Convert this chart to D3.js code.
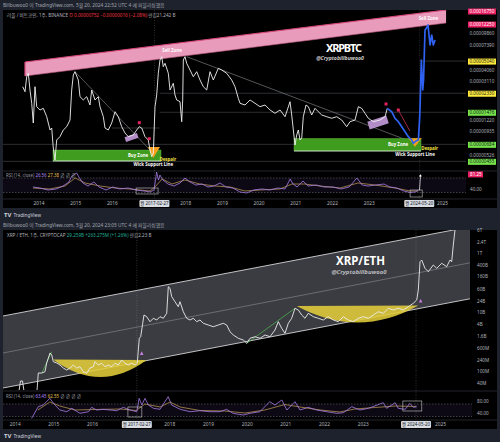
<!DOCTYPE html>
<html>
<head>
<meta charset="utf-8">
<script src="https://cdnjs.cloudflare.com/ajax/libs/d3/7.8.5/d3.min.js"></script>
<style>
  body { margin: 0; background: #1e222d; }
  svg { display: block; font-family: "Noto Sans", "Noto Sans CJK KR", sans-serif; }
</style>
</head>
<body>
<div id="chart"></div>
<script>
// ---- XRPBTC (weekly, price in satoshi) ----
const yearTicks = [2014, 2015, 2016, 2017, 2018, 2019, 2020, 2021, 2022, 2023, 2024, 2025];
const btcWeeks = [2013.569,2013.632,2013.678,2013.722,2013.768,2013.815,2013.858,2013.905,2013.951,2014.041,
  2014.131,2014.224,2014.314,2014.360,2014.403,2014.450,2014.496,2014.586,2014.676,2014.769,
  2014.859,2014.905,2014.949,2014.995,2015.085,2015.131,2015.221,2015.314,2015.404,2015.450,
  2015.540,2015.630,2015.677,2015.767,2015.813,2015.903,2015.996,2016.086,2016.176,2016.268,
  2016.358,2016.448,2016.585,2016.677,2016.748,2016.814,2016.903,2016.993,2017.040,2017.086,
  2017.130,2017.176,2017.222,2017.266,2017.312,2017.359,2017.402,2017.449,2017.539,2017.585,
  2017.675,2017.721,2017.768,2017.858,2017.904,2017.931,2017.948,2017.994,2018.040,2018.130,
  2018.220,2018.313,2018.403,2018.493,2018.586,2018.676,2018.766,2018.902,2018.995,2019.131,
  2019.267,2019.357,2019.447,2019.494,2019.630,2019.767,2019.903,2020.039,2020.176,2020.312,
  2020.448,2020.585,2020.721,2020.857,2020.903,2020.947,2020.993,2021.039,2021.083,2021.129,
  2021.176,2021.219,2021.293,2021.356,2021.448,2021.538,2021.628,2021.721,2021.857,2021.993,
  2022.130,2022.266,2022.402,2022.492,2022.629,2022.719,2022.811,2022.901,2022.991,2023.128,
  2023.310,2023.447,2023.509];
const btcClose = [2726,2418,3464,3760,2519,1830,1141,2726,1687,1559,
  1623,1327,965,1012,627,470,759,822,965,1044,
  1226,2519,3609,3906,3201,2145,1982,2145,1757,2519,
  1982,2145,1687,1327,1012,965,1141,1497,1327,1044,
  898,822,856,965,1044,1012,822,759,597,509,
  556,1687,2234,3760,5171,5598,4405,4778,3760,2519,
  2958,2234,1982,1902,1177,1982,5171,5598,4778,4068,
  3464,3906,3201,2726,2519,3906,3201,4240,4068,3760,
  3201,2726,2064,1830,1757,1982,1830,1687,1757,1559,
  1440,1559,1327,1902,1383,965,673,856,965,759,
  796,1327,1757,1687,1383,1623,1497,1383,1327,1278,
  1327,1226,1044,1177,1226,1687,1623,1440,1278,1177,
  1226,1327,1623];
// blue hand-drawn projection
const btcProjWeeks = [2023.509,2023.629,2023.719,2023.809,2023.902,2023.992,2024.082,2024.174,2024.218,2024.292,
  2024.355,2024.388,2024.401,2024.415,2024.437,2024.456,2024.475,2024.497,2024.537,2024.578,
  2024.619,2024.646,2024.673,2024.720,2024.763,2024.810];
const btcProj = [1623,1496,1277,1178,1045,927,822,759,701,742,
  759,1226,1636,2643,5171,3609,2518,3201,10620,11140,
  11970,9420,7410,9420,7410,8355];
const btcPriceTicks = [16750, 12250, 9860, 7390, 5040, 4060, 3110, 2330, 1476, 1220, 935, 684, 526, 455];

const btcRsiWeeks = [2013.85,2014.04,2014.26,2014.48,2014.67,2014.83,2014.91,2015.04,2015.10,2015.21,
  2015.35,2015.51,2015.65,2015.84,2016.03,2016.22,2016.44,2016.66,2016.88,2017.04,
  2017.15,2017.22,2017.27,2017.31,2017.39,2017.53,2017.69,2017.86,2017.99,2018.13,
  2018.29,2018.46,2018.62,2018.78,2018.95,2019.11,2019.30,2019.49,2019.68,2019.87,
  2020.09,2020.31,2020.53,2020.72,2020.86,2020.94,2021.05,2021.21,2021.35,2021.57,
  2021.78,2022.03,2022.25,2022.47,2022.68,2022.82,2022.98,2023.20,2023.42,2023.58,
  2023.77,2023.96,2024.13,2024.27,2024.36];
const btcRsi = [45.2,42.4,36.9,39.7,47.9,59,75.5,83.8,72.8,56.2,
  47.9,59,45.2,36.9,45.2,39.7,42.4,36.9,34.1,31.4,
  36.9,86.6,64.5,78.3,64.5,53.4,47.9,56.2,70,59,
  50.7,53.4,45.2,47.9,56.2,45.2,42.4,31.4,28.6,36.9,
  39.7,36.9,42.4,39.7,67.2,53.4,45.2,61.7,47.9,50.7,
  45.2,45.2,39.7,45.2,70,50.7,47.9,50.7,53.4,45.2,
  42.4,34.1,30,31.4,36.9];
const btcRsiMaWeeks = [2013.85,2014.31,2014.72,2015.00,2015.27,2015.68,2016.09,2016.49,2017.04,2017.20,
  2017.37,2017.64,2017.99,2018.40,2018.81,2019.22,2019.63,2020.04,2020.58,2020.91,
  2021.26,2021.67,2022.22,2022.71,2023.17,2023.72,2024.13,2024.35];
const btcRsiMa = [42.4,39.7,47.9,70,56.2,47.9,42.4,39.7,34.1,47.9,
  67.2,53.4,64.5,53.4,47.9,45.2,34.1,36.9,39.7,53.4,
  53.4,47.9,42.4,56.2,50.7,42.4,34.1,34.1];

// drawings on XRPBTC
const sellZoneYears = [2013.632, 2025.110];
const sellZoneTop = [4929, 17150];
const sellZoneBottom = [3523, 12570];
const sellLabelYears = [2017.64, 2024.63];
const buyZones = [[2014.395, 2017.340, 597, 459], [2020.966, 2024.428, 787, 583]];
const despair = [[2016.985, 2017.312, 2017.13, 642, 493], [2024.082, 2024.447, 2024.265, 790, 646]];
const btcTrendLines = [[2014.995, 3906, 2017.04, 597], [2018.040, 5598, 2024.40, 673]];
const btcLevels = [[2330, 2017.31, null], [1476, 2017.3, null], [1012, 2016.0, 2017.3], [684, null, null], [455, null, null], [5040, 2024.4, null]];
const purpleBoxes = [[2016.535, 806], [2023.256, 1155]];
const redMarks = [[2016.748, 1150], [2017.021, 783], [2023.474, 1800], [2023.809, 1559]];
const redLine = [[2023.809, 1559], [2024.124, 942]];
const btcRsiBoxes = [[2016.66, 2017.26, 42.4, 25.9], [2024.13, 2024.46, 36.9, 17.6]];
const btcRsiNow = 81.25;

// ---- XRP/ETH (weekly, value in millions) ----
const ethWeeks = [2014.113,2014.152,2014.204,2014.242,2014.578,2014.612,2014.700,2014.785,2014.829,2014.915,
  2014.959,2015.0,2015.088,2015.173,2015.259,2015.347,2015.432,2015.517,2015.605,2015.690,
  2015.776,2015.864,2015.949,2016.034,2016.078,2016.164,2016.252,2016.337,2016.422,2016.510,
  2016.596,2016.681,2016.769,2016.854,2016.939,2017.027,2017.113,2017.172,2017.198,2017.224,
  2017.260,2017.312,2017.345,2017.415,2017.501,2017.586,2017.674,2017.759,2017.845,2017.933,
  2017.974,2018.018,2018.062,2018.147,2018.232,2018.276,2018.362,2018.450,2018.535,2018.620,
  2018.708,2018.794,2018.879,2019.008,2019.138,2019.267,2019.396,2019.484,2019.569,2019.655,
  2019.784,2019.913,2020.001,2020.087,2020.216,2020.345,2020.474,2020.604,2020.733,2020.818,
  2020.906,2020.992,2021.077,2021.165,2021.250,2021.336,2021.424,2021.509,2021.594,2021.724,
  2021.853,2021.982,2022.111,2022.241,2022.370,2022.499,2022.629,2022.758,2022.887,2023.017,
  2023.146,2023.275,2023.405,2023.534,2023.663,2023.792,2023.922,2024.051,2024.180,2024.310,
  2024.398,2024.439,2024.483,2024.527,2024.612,2024.697,2024.827,2024.915,2025.044,2025.173,
  2025.259,2025.302,2025.344,2025.388,2025.432];
const ethValue = [21.5,46.7,46.7,21.5,21.5,87,87,96,190,413,
  353,210,190,162,128,110,128,162,128,142,
  96,85,128,142,210,162,185,142,162,142,
  185,162,239,185,162,185,162,185,521,1296,
  1466,4160,7930,6950,4710,6140,5370,6950,6140,9060,
  71700,63200,33000,22300,15100,22300,10250,6140,5370,6140,
  4710,5370,4160,3640,3190,3640,4160,3640,2160,1673,
  1296,1135,877,1296,1466,1296,1673,1466,2470,4710,
  2820,1910,4160,6140,13360,11700,7930,6140,9060,6950,
  6140,5370,6950,5370,4710,6950,5370,4710,6140,6950,
  6140,7930,10250,9060,13360,11700,13360,11700,15100,19700,
  25500,55500,501000,572000,300000,230000,388000,300000,443000,340000,
  572000,501000,1836000,5900000,6890000];
const ethPriceTicks = [40, 100, 240, 600, 1600, 4000, 10000, 24000, 60000, 160000, 400000, 1e6, 2.4e6, 6e6];

const ethRsiWeeks = [2014.44,2014.61,2014.74,2014.91,2015.04,2015.17,2015.35,2015.48,2015.69,2015.91,
  2015.99,2016.12,2016.29,2016.47,2016.64,2016.81,2016.98,2017.16,2017.22,2017.29,
  2017.37,2017.46,2017.59,2017.76,2017.97,2018.06,2018.28,2018.54,2018.79,2019.05,
  2019.31,2019.48,2019.65,2019.91,2020.09,2020.34,2020.60,2020.73,2020.91,2021.04,
  2021.25,2021.38,2021.59,2021.81,2022.07,2022.33,2022.50,2022.72,2022.93,2023.15,
  2023.53,2023.62,2023.84,2023.92,2024.10,2024.22,2024.31,2024.40];
const ethRsi = [24.2,61.4,66.8,88.2,66.8,50.8,45.4,56.2,40.2,45.4,
  59.4,50.8,53,50.8,48.6,59.4,50.8,45.4,88.2,66.8,
  88.2,66.8,56.2,53,93.4,66.8,53,45.4,48.6,45.4,
  45.4,53,40.2,34.8,40.2,45.4,77.4,66.8,82.8,50.8,
  77.4,50.8,59.4,50.8,45.4,40.2,42.2,61.4,50.8,56.2,
  74.2,56.2,74.2,56.2,53,72.2,59.4,61.4];
const ethRsiMaWeeks = [2014.60,2014.91,2015.17,2015.56,2016.08,2016.73,2017.14,2017.37,2017.76,2018.02,
  2018.28,2018.79,2019.43,2019.96,2020.47,2020.99,2021.38,2021.90,2022.41,2022.80,
  2023.31,2023.84,2024.38];
const ethRsiMa = [50.8,76.4,63.6,50.8,52.4,54,49.2,70,60.4,76.4,
  60.4,49.2,47.6,41.2,50.8,68.4,60.4,50.8,44.4,54,
  58.8,63.6,62];

// drawings on XRP/ETH
const channelYears = [2013.699, 2025.776];
const channelUpper = [7340, 7.57e6];
const channelMid = [413, 460000];
const channelLower = [27.1, 27990];
const ethCups = [[2014.992, 249, 2016.208, 63.8, 2017.415, 239], [2021.294, 15960, 2022.88, 4430, 2024.439, 16600]];
const ethGreenLines = [[2014.700, 85, 2014.959, 456], [2020.001, 877, 2021.25, 13360]];
const ethMarks = [[2017.286, 403], [2024.50, 23600]];
const ethRsiBoxes = [[2016.93, 2017.29, 60.4, 28.4], [2024.04, 2024.53, 79.6, 47.6]];

const crossDates = [2017.16, 2024.38];
const crossLabels = ["월 2017-02-27", "월 2024-05-20"];

// ---------------------------------------------------------------
const W = 500, H = 442;
const zip = (a, b) => a.map((v, i) => [v, b[i]]);
// year labels hidden under the crosshair date boxes
const visibleYears = yearTicks.filter(y => crossDates.every(c => Math.abs(y - c) > 0.5));
const svg = d3.select("#chart").append("svg").attr("width", W).attr("height", H);
svg.append("rect").attr("width", W).attr("height", H).attr("fill", "#1e222d");
const defs = svg.append("defs");
function clip(id, x, y, w, h) {
  defs.append("clipPath").attr("id", id).append("rect").attr("x", x).attr("y", y).attr("width", w).attr("height", h);
  return `url(#${id})`;
}
function styleAxis(g, size) {
  g.attr("font-family", null).attr("font-size", size);
  g.select(".domain").remove();
  g.selectAll(".tick line").remove();
  g.selectAll(".tick text").attr("fill", "#b2b5be");
}

function drawRsi(g, x, r, weeks, vals, maWeeks, maVals, boxes, left, right) {
  g.append("rect").attr("x", left).attr("y", r(70)).attr("width", right - left)
    .attr("height", r(30) - r(70)).attr("fill", "rgba(126,87,194,0.10)");
  [70, 30].forEach(v => g.append("line").attr("x1", left).attr("x2", right)
    .attr("y1", r(v)).attr("y2", r(v)).attr("stroke", "#787b86")
    .attr("stroke-width", 0.5).attr("stroke-dasharray", "1.5,1.5"));
  const ln = d3.line().x(d => x(d[0])).y(d => r(d[1]));
  g.append("path").attr("d", ln(zip(maWeeks, maVals))).attr("fill", "none")
    .attr("stroke", "#c9a25a").attr("stroke-width", 0.7);
  g.append("path").attr("d", ln(zip(weeks, vals))).attr("fill", "none")
    .attr("stroke", "#a77ee6").attr("stroke-width", 0.8);
  boxes.forEach(b => g.append("rect").attr("x", x(b[0])).attr("y", r(b[2]))
    .attr("width", x(b[1]) - x(b[0])).attr("height", r(b[3]) - r(b[2]))
    .attr("fill", "none").attr("stroke", "#c8c8c8").attr("stroke-width", 0.6));
}

function drawCross(x, y0, y1) {
  crossDates.forEach(d => {
    svg.append("line").attr("x1", x(d)).attr("x2", x(d)).attr("y1", y0).attr("y2", y1)
      .attr("stroke", "#8a8d96").attr("stroke-width", 0.5).attr("stroke-dasharray", "1,1.5").attr("opacity", 0.7);
  });
}
function drawCrossBoxes(x, yBox) {
  crossDates.forEach((d, i) => {
    svg.append("rect").attr("x", x(d) - 15).attr("y", yBox).attr("width", 30).attr("height", 7)
      .attr("rx", 1).attr("fill", "#d8dbe2");
    svg.append("text").attr("x", x(d)).attr("y", yBox + 5).attr("text-anchor", "middle")
      .attr("font-size", 4.4).attr("fill", "#131722").text(crossLabels[i]);
  });
}

function header(y, text) {
  svg.append("text").attr("x", 3).attr("y", y).attr("font-size", 4.8).attr("fill", "#a3a6af").text(text);
}
function footer(y) {
  const t = svg.append("text").attr("x", 4).attr("y", y).attr("fill", "#d1d4dc");
  t.append("tspan").attr("font-size", 6).attr("font-weight", "bold").text("TV");
  t.append("tspan").attr("font-size", 4.8).attr("dx", 2).text("TradingView");
}

// ================= TOP: XRPBTC =================
const xTop = d3.scaleLinear().domain([2014, 2025]).range([38.5, 442]);
const yTop = d3.scaleLog().domain([18000, 1800]).range([8, 104]);
const rTop = d3.scaleLinear().domain([30, 70]).range([192.5, 178]);

header(6.5, "Billbuwoo0 이 TradingView.com, 5월 20, 2024 22:52 UTC 4 에 퍼블리싱했음");
svg.append("rect").attr("x", 3).attr("y", 10).attr("width", 494).attr("height", 198).attr("fill", "#000");
svg.append("line").attr("x1", 3).attr("x2", 497).attr("y1", 171).attr("y2", 171).attr("stroke", "#2a2e39").attr("stroke-width", 0.8);
svg.append("line").attr("x1", 3).attr("x2", 497).attr("y1", 199).attr("y2", 199).attr("stroke", "#2a2e39").attr("stroke-width", 0.8);

const sym1 = svg.append("text").attr("x", 7).attr("y", 16.5).attr("font-size", 4.6).attr("fill", "#b2b5be");
sym1.append("tspan").text("리플 / 비트코인, 1주, BINANCE  ");
sym1.append("tspan").attr("fill", "#f23645").text("O 0.00000752  −0.00000016 (−2.08%)");
sym1.append("tspan").text("  만김21.242 B");

drawCross(xTop, 10, 199);

const pTop = svg.append("g").attr("clip-path", clip("cTop", 3, 10, 463, 160));
const lnTop = d3.line().x(d => xTop(d[0])).y(d => yTop(d[1]));

// horizontal levels
btcLevels.forEach(l => pTop.append("line")
  .attr("x1", l[1] == null ? 3 : xTop(l[1])).attr("x2", l[2] == null ? 466 : xTop(l[2]))
  .attr("y1", yTop(l[0])).attr("y2", yTop(l[0])).attr("stroke", "#4a4d55").attr("stroke-width", 0.6));
// trend lines
btcTrendLines.forEach(t => pTop.append("line").attr("x1", xTop(t[0])).attr("y1", yTop(t[1]))
  .attr("x2", xTop(t[2])).attr("y2", yTop(t[3])).attr("stroke", "#8d8f96").attr("stroke-width", 0.6));

// sell zone band
const sz = [[xTop(sellZoneYears[0]), yTop(sellZoneTop[0])], [xTop(sellZoneYears[1]), yTop(sellZoneTop[1])],
  [xTop(sellZoneYears[1]), yTop(sellZoneBottom[1])], [xTop(sellZoneYears[0]), yTop(sellZoneBottom[0])]];
pTop.append("polygon").attr("points", sz.map(p => p.join(",")).join(" ")).attr("fill", "#e99bbb");
pTop.append("line").attr("x1", sz[0][0]).attr("y1", sz[0][1]).attr("x2", sz[1][0]).attr("y2", sz[1][1])
  .attr("stroke", "#d9487a").attr("stroke-width", 1.2);
pTop.append("line").attr("x1", sz[3][0]).attr("y1", sz[3][1]).attr("x2", sz[2][0]).attr("y2", sz[2][1])
  .attr("stroke", "#b8577c").attr("stroke-width", 0.6);
pTop.append("line").attr("x1", sz[0][0]).attr("y1", sz[0][1]).attr("x2", sz[3][0]).attr("y2", sz[3][1])
  .attr("stroke", "#d9487a").attr("stroke-width", 1.2);
sellLabelYears.forEach(yr => {
  const f = (xTop(yr) - sz[0][0]) / (sz[1][0] - sz[0][0]);
  const yt = sz[0][1] + f * (sz[1][1] - sz[0][1]), yb = sz[3][1] + f * (sz[2][1] - sz[3][1]);
  pTop.append("text").attr("x", xTop(yr)).attr("y", (yt + yb) / 2 + 1.5).attr("text-anchor", "middle")
    .attr("font-size", 4.4).attr("font-weight", "bold").attr("fill", "#fff").text("Sell Zone");
});

// buy zones
buyZones.forEach(b => {
  const x0 = xTop(b[0]), x1 = xTop(b[1]), y0 = yTop(b[2]), y1 = yTop(b[3]);
  pTop.append("rect").attr("x", x0).attr("y", y0).attr("width", x1 - x0).attr("height", y1 - y0)
    .attr("fill", "#3f9c1e").attr("stroke", "#74c250").attr("stroke-width", 0.4);
  pTop.append("line").attr("x1", x0).attr("x2", x1).attr("y1", y1).attr("y2", y1)
    .attr("stroke", "#fff").attr("stroke-width", 0.7);
  pTop.append("text").attr("x", x1 - 23).attr("y", (y0 + y1) / 2 + 1.5).attr("text-anchor", "middle")
    .attr("font-size", 4.4).attr("font-weight", "bold").attr("fill", "#fff").text("Buy Zone");
});
// despair triangles
despair.forEach(d => {
  const pts = [[xTop(d[0]), yTop(d[3])], [xTop(d[1]), yTop(d[3])], [xTop(d[2]), yTop(d[4])]];
  pTop.append("polygon").attr("points", pts.map(p => p.join(",")).join(" ")).attr("fill", "#f6a01d");
});

// purple boxes
const purpleSize = [[13, 5], [20, 8]];
purpleBoxes.forEach((p, i) => {
  const [w, h] = purpleSize[i];
  pTop.append("rect").attr("x", -w / 2).attr("y", -h / 2).attr("width", w).attr("height", h)
    .attr("fill", "#c59bdc").attr("opacity", 0.9)
    .attr("transform", `translate(${xTop(p[0])},${yTop(p[1])}) rotate(-18)`);
});

// price line
pTop.append("path").attr("d", lnTop(zip(btcWeeks, btcClose))).attr("fill", "none")
  .attr("stroke", "#f2f2f2").attr("stroke-width", 0.9).attr("stroke-linejoin", "round");
pTop.append("path").attr("d", lnTop(zip(btcProjWeeks, btcProj))).attr("fill", "none")
  .attr("stroke", "#2f62f2").attr("stroke-width", 1.7).attr("stroke-linejoin", "round");

// red markers
pTop.append("line").attr("x1", xTop(redLine[0][0])).attr("y1", yTop(redLine[0][1]))
  .attr("x2", xTop(redLine[1][0])).attr("y2", yTop(redLine[1][1])).attr("stroke", "#e53958").attr("stroke-width", 0.7);
redMarks.forEach(m => pTop.append("rect").attr("x", xTop(m[0]) - 1.5).attr("y", yTop(m[1]) - 1.5)
  .attr("width", 3).attr("height", 3).attr("fill", "#e0245e"));

// labels under zones
buyZones.forEach((b, i) => {
  const d = despair[i];
  svg.append("text").attr("x", xTop(d[1]) - 0.5).attr("y", yTop(d[4]) + 3).attr("font-size", 4.4)
    .attr("font-weight", "bold").attr("fill", "#f5e342").text("Despair");
  svg.append("text").attr("x", xTop(d[2])).attr("y", yTop(b[3]) + 5.3).attr("text-anchor", "middle")
    .attr("font-size", 4.4).attr("font-weight", "bold").attr("fill", "#fff").text("Wick Support Line");
});

svg.append("text").attr("x", 344).attr("y", 51.7).attr("text-anchor", "middle").attr("font-size", 11)
  .attr("font-weight", "bold").attr("fill", "#fff").attr("textLength", 36).text("XRPBTC");
svg.append("text").attr("x", 340).attr("y", 60).attr("text-anchor", "middle").attr("font-size", 5.2)
  .attr("font-weight", "bold").attr("font-style", "italic").attr("fill", "#c8c8c8").text("@Cryptobillbuwoo0");

// price axis
const boxColors = new Map([[16750, ["#e91e63", "#fff"]], [12250, ["#e91e63", "#fff"]], [5040, ["#ffeb3b", "#131722"]],
  [2330, ["#ffeb3b", "#131722"]], [1476, ["#76e34a", "#131722"]], [684, ["#76e34a", "#131722"]], [455, ["#76e34a", "#131722"]]]);
const gyTop = svg.append("g").attr("transform", "translate(468,0)")
  .call(d3.axisRight(yTop).tickValues(btcPriceTicks).tickFormat(d => (d * 1e-8).toFixed(8)).tickSize(0).tickPadding(1.5));
styleAxis(gyTop, 4.6);
gyTop.selectAll(".tick").each(function(d) {
  const c = boxColors.get(d);
  if (c) {
    d3.select(this).insert("rect", "text").attr("x", 0).attr("y", -3).attr("width", 28).attr("height", 6).attr("fill", c[0]);
    d3.select(this).select("text").attr("fill", c[1]);
  }
});

// RSI
const rsiTop = svg.append("g").attr("clip-path", clip("cRsiTop", 3, 172, 463, 26));
drawRsi(rsiTop, xTop, rTop, btcRsiWeeks, btcRsi, btcRsiMaWeeks, btcRsiMa, btcRsiBoxes, 3, 466);
const lastR = btcRsi[btcRsi.length - 1];
svg.append("line").attr("x1", xTop(btcRsiWeeks[btcRsiWeeks.length - 1]) + 1).attr("y1", rTop(lastR))
  .attr("x2", xTop(btcRsiWeeks[btcRsiWeeks.length - 1]) + 2).attr("y2", rTop(btcRsiNow) + 1.5)
  .attr("stroke", "#fff").attr("stroke-width", 0.7);
svg.append("path").attr("d", `M${xTop(2024.36) + 0.3},${rTop(btcRsiNow) + 2.5} l1.7,-2.2 l1.3,2.4 z`).attr("fill", "#fff");
const rl1 = svg.append("text").attr("x", 6).attr("y", 176.5).attr("font-size", 4.4).attr("fill", "#9598a1");
rl1.append("tspan").text("RSI (14, close)  ");
rl1.append("tspan").attr("fill", "#b388ff").text("26.56  ");
rl1.append("tspan").attr("fill", "#e8c15a").text("27.38");
rl1.append("tspan").text("  ∅  ∅  ∅");
const grTop = svg.append("g").attr("transform", "translate(468,0)")
  .call(d3.axisRight(rTop).tickValues([btcRsiNow, 40]).tickFormat(d3.format(".2f")).tickSize(0).tickPadding(2));
styleAxis(grTop, 4.6);
grTop.selectAll(".tick").filter(d => d === btcRsiNow).each(function() {
  d3.select(this).insert("rect", "text").attr("x", 0).attr("y", -3).attr("width", 15).attr("height", 6).attr("fill", "#e91e63");
  d3.select(this).select("text").attr("fill", "#fff");
});

// time axis
const gxTop = svg.append("g").attr("transform", "translate(0,202)")
  .call(d3.axisBottom(xTop).tickValues(visibleYears).tickFormat(d3.format("d")).tickSize(0).tickPadding(0));
styleAxis(gxTop, 4.8);
drawCrossBoxes(xTop, 200);
footer(217);

// ================= BOTTOM: XRP/ETH =================
const xBot = d3.scaleLinear().domain([2015, 2025]).range([53.3, 440]);
const yBot = d3.scaleLog().domain([40, 400]).range([383, 353.4]);
const rBot = d3.scaleLinear().domain([30, 70]).range([416.5, 404]);

header(226.5, "Billbuwoo0 이 TradingView.com, 5월 20, 2024 23:05 UTC 4 에 퍼블리싱했음");
svg.append("rect").attr("x", 3).attr("y", 230).attr("width", 494).attr("height", 199).attr("fill", "#000");

const pBot = svg.append("g").attr("clip-path", clip("cBot", 3, 230, 469, 160));
const lnBot = d3.line().x(d => xBot(d[0])).y(d => yBot(d[1]));
const up = zip(channelYears, channelUpper), lo = zip(channelYears, channelLower);
pBot.append("path").attr("d", lnBot(up.concat(lo.slice().reverse())) + "Z").attr("fill", "#3b3c42");
pBot.append("path").attr("d", lnBot(up)).attr("stroke", "#d5d5d8").attr("stroke-width", 0.9).attr("fill", "none");
pBot.append("path").attr("d", lnBot(lo)).attr("stroke", "#d5d5d8").attr("stroke-width", 0.9).attr("fill", "none");
pBot.append("path").attr("d", lnBot(zip(channelYears, channelMid))).attr("stroke", "#8c8d93").attr("stroke-width", 0.6).attr("fill", "none");

svg.append("line").attr("x1", 3).attr("x2", 497).attr("y1", 391).attr("y2", 391).attr("stroke", "#2a2e39").attr("stroke-width", 0.8);
svg.append("line").attr("x1", 3).attr("x2", 497).attr("y1", 420).attr("y2", 420).attr("stroke", "#2a2e39").attr("stroke-width", 0.8);

const sym2 = svg.append("text").attr("x", 7).attr("y", 236.5).attr("font-size", 4.6).attr("fill", "#b2b5be");
sym2.append("tspan").text("XRP / ETH, 1주, CRYPTOCAP  ");
sym2.append("tspan").attr("fill", "#22ab94").text("29.259B  +263.275M (+1.26%)");
sym2.append("tspan").text("  만김2.23 B");

drawCross(xBot, 230, 420);

ethCups.forEach(c => {
  const p0 = [xBot(c[0]), yBot(c[1])], b = [xBot(c[2]), yBot(c[3])], p2 = [xBot(c[4]), yBot(c[5])];
  const ctl = [2 * b[0] - (p0[0] + p2[0]) / 2, 2 * b[1] - (p0[1] + p2[1]) / 2];
  pBot.append("path").attr("d", `M${p0}Q${ctl} ${p2}Z`).attr("fill", "#e2cd3a").attr("opacity", 0.88);
});
ethGreenLines.forEach(g => pBot.append("line").attr("x1", xBot(g[0])).attr("y1", yBot(g[1]))
  .attr("x2", xBot(g[2])).attr("y2", yBot(g[3])).attr("stroke", "#4caf50").attr("stroke-width", 0.8));
pBot.append("path").attr("d", lnBot(zip(ethWeeks, ethValue))).attr("fill", "none")
  .attr("stroke", "#ececec").attr("stroke-width", 0.9).attr("stroke-linejoin", "round");
ethMarks.forEach(m => pBot.append("path")
  .attr("d", `M${xBot(m[0]) - 1.8},${yBot(m[1]) + 1.6} L${xBot(m[0])},${yBot(m[1]) - 2} L${xBot(m[0]) + 1.8},${yBot(m[1]) + 1.6}Z`)
  .attr("fill", "#c77dde"));

svg.append("text").attr("x", 360.5).attr("y", 265).attr("text-anchor", "middle").attr("font-size", 11.5)
  .attr("font-weight", "bold").attr("fill", "#fff").text("XRP/ETH");
svg.append("text").attr("x", 359).attr("y", 273.8).attr("text-anchor", "middle").attr("font-size", 6)
  .attr("font-weight", "bold").attr("font-style", "italic").attr("fill", "#b8b8bc").text("@Cryptobillbuwoo0");

const fmtCap = v => v < 1000 ? v + "M" : v < 1e6 ? (v / 1000) + "B" : (v / 1e6) + "T";
const gyBot = svg.append("g").attr("transform", "translate(475,0)")
  .call(d3.axisRight(yBot).tickValues(ethPriceTicks).tickFormat(fmtCap).tickSize(0).tickPadding(2));
styleAxis(gyBot, 4.6);

const rsiBot = svg.append("g").attr("clip-path", clip("cRsiBot", 3, 392, 469, 27));
drawRsi(rsiBot, xBot, rBot, ethRsiWeeks, ethRsi, ethRsiMaWeeks, ethRsiMa, ethRsiBoxes, 3, 472);
const rl2 = svg.append("text").attr("x", 6).attr("y", 397.5).attr("font-size", 4.4).attr("fill", "#9598a1");
rl2.append("tspan").text("RSI (14, close)  ");
rl2.append("tspan").attr("fill", "#b388ff").text("63.45  ");
rl2.append("tspan").attr("fill", "#e8c15a").text("62.55");
rl2.append("tspan").text("  ∅  ∅  ∅  ∅");
const grBot = svg.append("g").attr("transform", "translate(475,0)")
  .call(d3.axisRight(rBot).tickValues([80, 40]).tickFormat(d3.format(".2f")).tickSize(0).tickPadding(2));
styleAxis(grBot, 4.6);

const gxBot = svg.append("g").attr("transform", "translate(0,423)")
  .call(d3.axisBottom(xBot).tickValues(visibleYears).tickFormat(d3.format("d")).tickSize(0).tickPadding(0));
styleAxis(gxBot, 4.8);
drawCrossBoxes(xBot, 421);
footer(438);
</script>
</body>
</html>
